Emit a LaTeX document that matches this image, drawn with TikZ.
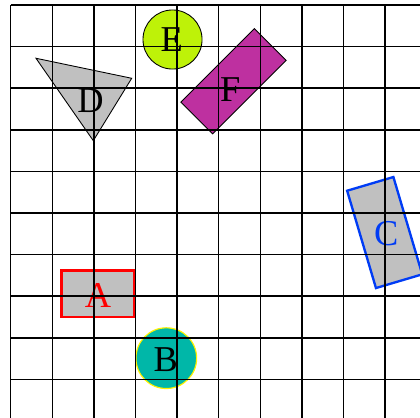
\documentclass[tikz,border=0pt]{standalone}
\usepackage{fontspec}
\setmainfont{Liberation Serif}
\usepackage{xcolor}

\definecolor{shapegray}{RGB}{192,192,192}
\definecolor{tealfill}{RGB}{0,183,168}
\definecolor{limefill}{RGB}{190,242,8}
\definecolor{magentafill}{RGB}{190,48,160}
\definecolor{edgeblue}{RGB}{0,60,245}

\begin{document}
\begin{tikzpicture}[
  letter/.style={font=\Huge, inner sep=0pt},
  gridline/.style={line width=1pt},
  boldedge/.style={line width=1.6pt}
]
  \clip (-0.257,0.072) rectangle (9.839,10.12);

  % Rectangle A
  \node[draw=red, boldedge, fill=shapegray, minimum width=1.75cm, minimum height=1.11cm] (boxA) at (2.1,3.06) {};
  \node[letter, text=red] (A) at (2.1,3.02) {A};

  % Circle B
  \node[circle, draw=yellow, thick, fill=tealfill, minimum size=1.46cm] (circB) at (3.74,1.51) {};
  \node[letter] (B) at (3.73,1.47) {B};

  % Tilted rectangle C
  \begin{scope}[shift={(8.99,4.53)}, rotate=16.5]
    \draw[draw=edgeblue, boldedge, fill=shapegray] (-0.58,-1.22) rectangle (0.58,1.22);
  \end{scope}
  \node[letter, text=edgeblue] (C) at (9.03,4.51) {C};

  % Triangle D
  \draw[semithick, fill=shapegray] (0.608,8.719) -- (2.909,8.238) -- (1.986,6.738) -- cycle;
  \node[letter] (D) at (1.92,7.70) {D};

  % Circle E
  \node[circle, draw, semithick, fill=limefill, minimum size=1.42cm] (circE) at (3.89,9.17) {};
  \node[letter] (E) at (3.87,9.17) {E};

  % Tilted rectangle F
  \begin{scope}[shift={(5.356,8.168)}, rotate=45]
    \draw[semithick, fill=magentafill] (-1.25,-0.54) rectangle (1.25,0.54);
  \end{scope}
  \node[letter] (F) at (5.28,7.97) {F};

  % Grid on top
  \draw[gridline] (0,0) grid (10,10);
\end{tikzpicture}
\end{document}
